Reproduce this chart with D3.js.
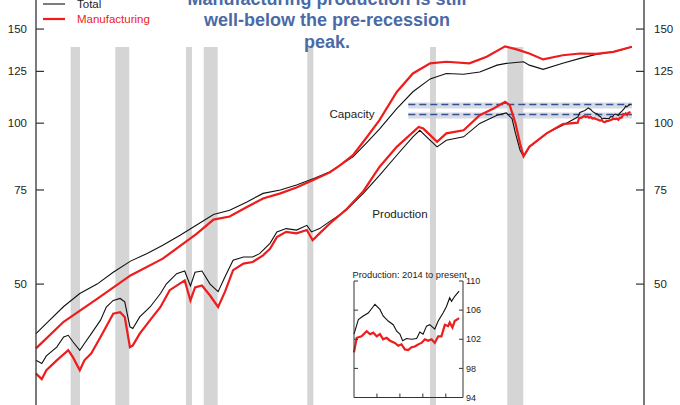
<!DOCTYPE html>
<meta charset="utf-8">
<style>
body { margin: 0; background: #fff; }
svg { display: block; font-family: "Liberation Sans", Arial, sans-serif; }
.recession { fill: #d5d5d5; }
.axis-line { stroke: #333; stroke-width: 1.3px; }
.tick-mark { stroke: #333; stroke-width: 1.2px; }
.tick-label { fill: #222; font-size: 11.5px; }
.total { fill: none; stroke: #111; stroke-width: 1.1px; }
.mfg { fill: none; stroke: #ee1c1c; stroke-width: 2.2px; }
.ref-glow { stroke: #c9cedd; stroke-width: 6px; opacity: 0.75; }
.ref { stroke: #34508f; stroke-width: 1.6px; stroke-dasharray: 7, 4; }
.title { fill: #4b6aa5; font-size: 18px; font-weight: bold; }
.note { fill: #222; font-size: 11.6px; }
.inset-axis { stroke: #333; stroke-width: 1px; }
.inset-label { fill: #222; font-size: 9px; }
</style>
<body>
<script src="https://d3js.org/d3.v7.min.js"></script>
<script>

// ---- data (index, 2012 = 100, log scale) ----

// recession spans, decimal years
var recessions = [[2007.89, 2009.28], [1970.01, 1970.82], [1973.88, 1975.09], [1980.01, 1980.53],
                  [1981.55, 1982.76], [1990.54, 1991.06], [2001.18, 2001.7]];

var totalCapacity = [[1967.0,40.4],[1967.9,42.2],[1969.4,45.4],[1970.8,48.0],[1972.3,50.0],[1973.7,52.6],
  [1975.2,55.2],[1976.6,57.0],[1978.0,59.1],[1979.5,61.7],[1980.9,64.4],[1982.4,67.5],[1983.8,68.7],
  [1985.3,71.2],[1986.7,73.9],[1988.2,75.0],[1989.6,76.6],[1991.1,78.8],[1992.5,81.1],[1993.4,83.5],
  [1994.5,86.5],[1995.6,91.5],[1996.8,97.5],[1998.3,106.5],[1999.7,114.5],[2001.2,121.0],[2002.6,123.9],
  [2004.1,123.5],[2005.5,124.7],[2007.0,128.4],[2007.8,129.4],[2009.3,130.3],[2009.8,128.4],[2011.0,126.1],
  [2012.7,129.4],[2014.2,132.2],[2015.6,134.5],[2017.1,136.0],[2017.9,137.4],[2018.7,139.0]];

var mfgCapacity = [[1967.0,37.9],[1969.4,42.5],[1972.3,46.9],[1975.2,51.9],[1978.0,55.8],[1980.9,62.0],
  [1982.4,66.0],[1983.8,66.9],[1985.3,69.7],[1986.7,72.3],[1988.2,73.9],[1989.6,75.8],[1991.1,78.4],
  [1992.5,80.9],[1993.4,83.5],[1994.5,87.1],[1995.6,93.5],[1996.8,101.3],[1998.3,114.4],[1999.7,123.9],
  [2001.2,129.4],[2002.6,130.3],[2004.6,129.4],[2006.1,133.1],[2007.7,139.2],[2008.7,137.4],[2009.8,135.0],
  [2011.0,131.6],[2012.7,134.0],[2014.2,135.0],[2015.6,134.8],[2017.1,136.0],[2018.7,139.0]];

var totalProduction = [[1967.0,36.0],[1967.5,35.5],[1967.9,36.7],[1968.8,38.1],[1969.4,39.8],[1969.8,40.1],
  [1970.2,39.0],[1970.8,37.6],[1971.2,38.7],[1971.8,40.4],[1972.6,42.8],[1973.1,45.3],[1973.7,46.6],
  [1974.3,47.0],[1974.7,46.3],[1975.15,41.6],[1975.4,41.3],[1976.0,43.4],[1976.9,45.3],[1977.8,48.0],
  [1978.3,50.0],[1979.2,52.3],[1979.9,52.9],[1980.4,49.6],[1980.8,52.6],[1981.4,52.9],[1982.1,50.0],
  [1982.8,48.4],[1983.4,51.6],[1984.1,55.4],[1985.0,56.2],[1985.8,56.2],[1986.4,57.0],[1987.3,59.6],
  [1987.9,62.6],[1988.7,63.5],[1989.6,63.1],[1990.5,64.4],[1990.9,62.6],[1991.6,63.5],[1992.5,65.5],
  [1993.9,68.7],[1995.4,73.9],[1996.8,79.9],[1998.3,87.1],[1999.7,94.3],[2000.3,97.0],[2001.2,92.9],
  [2001.8,90.3],[2002.6,92.9],[2004.1,94.3],[2005.5,99.9],[2007.0,103.5],[2007.8,104.5],[2008.3,102.0],
  [2008.6,95.7],[2009.0,89.0],[2009.3,86.7],[2009.8,90.3],[2011.3,95.7],[2012.7,99.1],
  [2014.0,102.7],[2014.19,104.7],[2014.4,105.2],[2014.62,105.6],[2014.84,106.5],[2014.91,106.8],
  [2015.13,106.1],[2015.27,105.2],[2015.49,104.5],[2015.71,104.0],[2015.86,103.1],[2016.0,102.7],
  [2016.12,101.8],[2016.29,102.1],[2016.51,102.0],[2016.73,102.1],[2016.87,103.0],[2017.01,102.7],
  [2017.16,103.8],[2017.3,104.0],[2017.52,103.4],[2017.67,104.5],[2017.88,105.6],[2018.03,106.5],
  [2018.17,107.7],[2018.25,107.2],[2018.39,107.9],[2018.58,108.6]];

var mfgProduction = [[1967.0,34.0],[1967.5,33.2],[1967.9,34.5],[1968.8,36.0],[1969.8,37.6],[1970.2,36.5],
  [1970.8,34.5],[1971.2,36.0],[1971.8,37.1],[1972.6,39.8],[1973.7,44.0],[1974.3,44.3],[1974.7,43.4],
  [1975.15,38.1],[1975.4,38.4],[1976.0,40.4],[1976.9,42.8],[1977.8,45.3],[1978.6,48.7],[1979.9,50.8],
  [1980.4,46.6],[1980.8,49.3],[1981.4,49.7],[1982.1,47.6],[1982.8,45.3],[1983.4,48.4],[1984.1,53.1],
  [1985.0,54.6],[1985.8,55.0],[1986.7,56.6],[1987.3,58.2],[1987.9,61.2],[1988.7,62.6],[1989.6,62.2],
  [1990.5,63.1],[1991.0,60.4],[1991.6,62.2],[1992.5,64.9],[1993.9,68.9],[1995.4,74.6],[1996.8,82.8],
  [1998.3,90.3],[2000.2,98.4],[2000.6,97.7],[2001.2,95.0],[2001.8,92.3],[2002.6,95.7],[2004.1,97.0],
  [2005.5,103.5],[2006.7,106.5],[2007.7,109.6],[2008.1,108.1],[2008.6,99.9],[2009.0,91.6],[2009.3,86.7],
  [2009.8,90.3],[2011.3,95.7],[2012.7,99.6],
  [2014.0,100.2],[2014.12,102.2],[2014.33,102.4],[2014.55,103.1],[2014.7,102.7],[2014.84,102.9],
  [2014.99,102.4],[2015.13,102.7],[2015.27,102.0],[2015.42,102.2],[2015.57,101.8],[2015.78,101.5],
  [2015.93,101.1],[2016.07,101.3],[2016.22,100.6],[2016.36,100.5],[2016.51,100.9],[2016.65,101.0],
  [2016.8,101.3],[2016.94,101.5],[2017.09,102.0],[2017.23,101.8],[2017.38,102.0],[2017.52,101.5],
  [2017.67,102.4],[2017.81,102.4],[2017.96,104.0],[2018.1,103.8],[2018.17,104.3],[2018.29,103.6],
  [2018.39,104.5],[2018.58,104.9]];

// pre-recession peak reference levels
var refLevels = [108.4, 103.8];
var refSpan = [1999.3, 2018.7];

var mainTicks = [50, 75, 100, 125, 150];
var insetTicks = [94, 98, 102, 106, 110];
var insetYearTicks = [2015, 2016, 2017, 2018];
var insetYearLabels = [2014, 2016, 2018];

var titleLines = ["Manufacturing production is still", "well-below the pre-recession", "peak."];

// ---- layout ----
var width = 680, height = 405;
var left = 36, right = 644;

var x = d3.scaleLinear().domain([1967, 2019.75]).range([left, right]);
var y = d3.scaleLog().domain([29.7, 170]).range([405, 0]);

var svg = d3.select("body").append("svg")
    .attr("width", width)
    .attr("height", height);

// recession shading
svg.selectAll(".recession")
    .data(recessions)
  .enter().append("rect")
    .attr("class", "recession")
    .attr("x", function(d) { return x(d[0]); })
    .attr("width", function(d) { return x(d[1]) - x(d[0]); })
    .attr("y", 47)
    .attr("height", height - 47);

// dashed reference lines with soft shadow
refLevels.forEach(function(v) {
  svg.append("line").attr("class", "ref-glow")
      .attr("x1", x(refSpan[0])).attr("x2", x(refSpan[1]))
      .attr("y1", y(v) + 1).attr("y2", y(v) + 1);
  svg.append("line").attr("class", "ref")
      .attr("x1", x(refSpan[0])).attr("x2", x(refSpan[1]))
      .attr("y1", y(v)).attr("y2", y(v));
});

var line = d3.line()
    .x(function(d) { return x(d[0]); })
    .y(function(d) { return y(d[1]); });

svg.append("path").datum(totalCapacity).attr("class", "total").attr("d", line);
svg.append("path").datum(totalProduction).attr("class", "total").attr("d", line);
svg.append("path").datum(mfgCapacity).attr("class", "mfg").attr("d", line);
svg.append("path").datum(mfgProduction).attr("class", "mfg").attr("d", line);

// left and right axes, ticks pointing inward
[left, right].forEach(function(ax, i) {
  svg.append("line").attr("class", "axis-line")
      .attr("x1", ax).attr("x2", ax).attr("y1", 0).attr("y2", height);
  var dir = i == 0 ? 1 : -1;
  mainTicks.forEach(function(t) {
    svg.append("line").attr("class", "tick-mark")
        .attr("x1", ax).attr("x2", ax + dir * 8)
        .attr("y1", y(t)).attr("y2", y(t));
    svg.append("text").attr("class", "tick-label")
        .attr("x", i == 0 ? ax - 9 : ax + 10)
        .attr("y", y(t))
        .attr("dy", "0.35em")
        .attr("text-anchor", i == 0 ? "end" : "start")
        .text(t);
  });
});

// legend
svg.append("line").attr("class", "total").attr("x1", 43).attr("x2", 65).attr("y1", 4).attr("y2", 4);
svg.append("text").attr("x", 77).attr("y", 8).attr("font-size", "11.5px").attr("fill", "#222").text("Total");
svg.append("line").attr("class", "mfg").attr("x1", 43).attr("x2", 65).attr("y1", 19).attr("y2", 19);
svg.append("text").attr("x", 77).attr("y", 23).attr("font-size", "11.5px").attr("fill", "#ee1c1c").text("Manufacturing");

// title
svg.selectAll(".title")
    .data(titleLines)
  .enter().append("text")
    .attr("class", "title")
    .attr("x", 327)
    .attr("y", function(d, i) { return 4.5 + i * 21.5; })
    .attr("text-anchor", "middle")
    .text(function(d) { return d; });

// series notes
svg.append("text").attr("class", "note").attr("x", 352).attr("y", 118)
    .attr("text-anchor", "middle").text("Capacity");
svg.append("text").attr("class", "note").attr("x", 400).attr("y", 217.5)
    .attr("text-anchor", "middle").text("Production");

// ---- inset: production 2014 to present ----
var ix = d3.scaleLinear().domain([2014, 2018.75]).range([354, 463]);
var iy = d3.scaleLinear().domain([94, 110]).range([397.5, 281]);

var inset = svg.append("g");

var iline = d3.line()
    .x(function(d) { return ix(d[0]); })
    .y(function(d) { return iy(d[1]); });

inset.append("text")
    .attr("x", 352.5).attr("y", 277.5)
    .attr("font-size", "9.3px").attr("fill", "#222")
    .text("Production: 2014 to present");

inset.append("path")
    .datum(totalProduction.filter(function(d) { return d[0] >= 2014; }))
    .attr("class", "total").attr("d", iline);
inset.append("path")
    .datum(mfgProduction.filter(function(d) { return d[0] >= 2014; }))
    .attr("class", "mfg").attr("d", iline);

// inset frame (left, right, bottom)
inset.append("path").attr("class", "inset-axis").attr("fill", "none")
    .attr("d", "M" + ix(2014) + "," + iy(110) + "V" + iy(94) + "H" + ix(2018.75) + "V" + iy(110));

insetTicks.forEach(function(t) {
  inset.append("line").attr("class", "inset-axis")
      .attr("x1", ix(2014)).attr("x2", ix(2014) + 4).attr("y1", iy(t)).attr("y2", iy(t));
  inset.append("line").attr("class", "inset-axis")
      .attr("x1", ix(2018.75)).attr("x2", ix(2018.75) - 4).attr("y1", iy(t)).attr("y2", iy(t));
  inset.append("text").attr("class", "inset-label")
      .attr("x", ix(2018.75) + 3).attr("y", iy(t)).attr("dy", "0.35em")
      .text(t);
});

insetYearTicks.forEach(function(t) {
  inset.append("line").attr("class", "inset-axis")
      .attr("x1", ix(t)).attr("x2", ix(t)).attr("y1", iy(94)).attr("y2", iy(94) - 4);
});
insetYearLabels.forEach(function(t) {
  inset.append("text").attr("class", "inset-label")
      .attr("x", ix(t)).attr("y", 411)
      .text(t);
});

</script>
</body>
